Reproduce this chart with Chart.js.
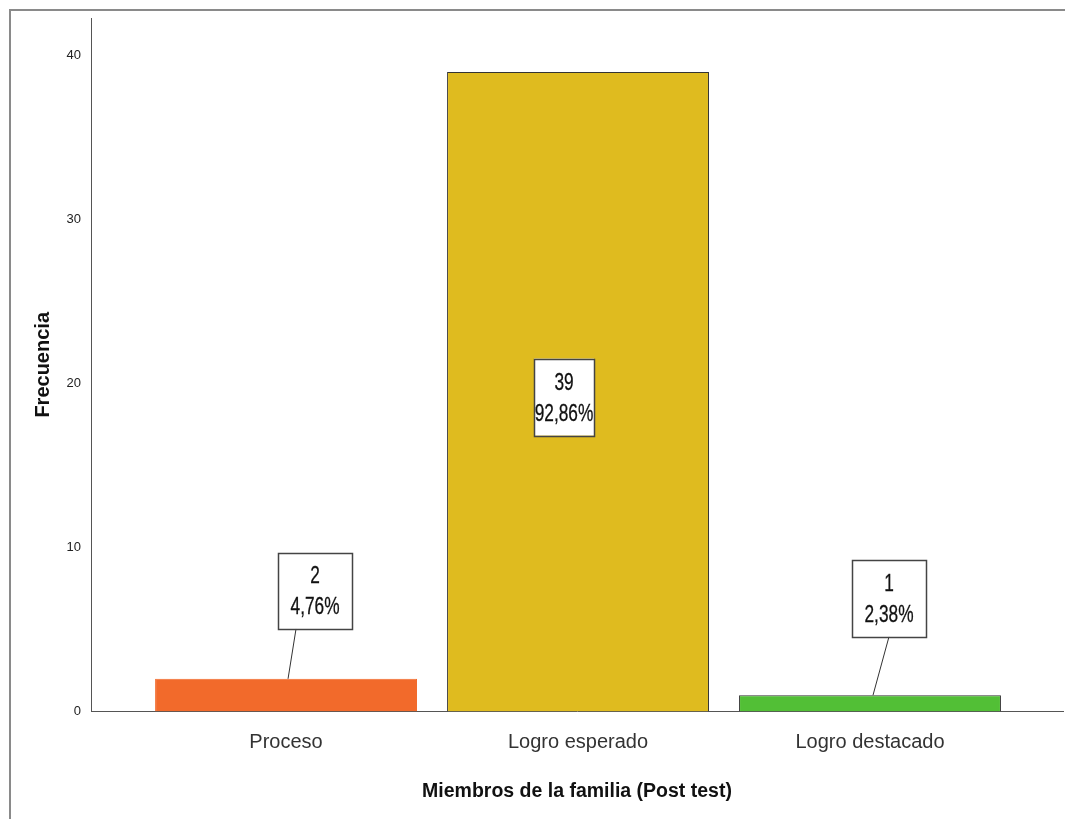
<!DOCTYPE html>
<html lang="en">
<head>
<meta charset="utf-8">
<title>Miembros de la familia</title>
<script src="https://cdn.jsdelivr.net/npm/chart.js@4.4.1/dist/chart.umd.min.js"></script>
<style>
  body { margin: 0; background: #fff; }
  #wrap { width: 1065px; height: 819px; }
</style>
</head>
<body>
<div id="wrap"><canvas id="myChart" width="1065" height="819"></canvas></div>
<script>
// data
const categorias = ['Proceso', 'Logro esperado', 'Logro destacado'];
const frecuencias = [2, 39, 1];
const porcentajes = ['4,76%', '92,86%', '2,38%'];
const yTicks = [0, 10, 20, 30, 40];
const colores = ['#f26a2b', '#dfbb1f', '#52bf36'];

const FONT = '"Liberation Sans", Arial, sans-serif';

// label box placement (pixels, relative to the bar top / bar centre)
const cajas = [
  { dx: 29, dy: -88, w: 74, h: 76, lineFrom: -19, lineTo: 2 },
  { dx: -14, dy: 325, w: 60, h: 77, lineFrom: null },
  { dx: 19, dy: -97, w: 74, h: 77, lineFrom: 0, lineTo: 3 }
];

// outer frame
const marco = {
  id: 'marco',
  beforeDraw(chart) {
    let c = chart.ctx;
    c.save();
    c.fillStyle = '#fff';
    c.fillRect(0, 0, chart.width, chart.height);
    c.strokeStyle = '#8a8a8a';
    c.lineWidth = 2;
    c.strokeRect(10, 10, chart.width + 20, chart.height + 20);
    c.restore();
  }
};

// boxed value labels (condensed text like the original)
const etiquetas = {
  id: 'etiquetas',
  afterDatasetsDraw(chart) {
    let c = chart.ctx;
    let meta = chart.getDatasetMeta(0);
    c.save();
    meta.data.forEach(function(bar, i) {
      let b = cajas[i];
      let cx = bar.x + b.dx;
      let cy = bar.y + b.dy;
      let left = cx - b.w / 2, top = cy - b.h / 2;
      if (b.lineFrom !== null) {
        c.strokeStyle = '#333';
        c.lineWidth = 1;
        c.beginPath();
        c.moveTo(cx + b.lineFrom, top + b.h);
        c.lineTo(bar.x + b.lineTo, bar.y);
        c.stroke();
      }
      c.fillStyle = '#fff';
      c.fillRect(left, top, b.w, b.h);
      c.strokeStyle = '#444';
      c.lineWidth = 1.5;
      c.strokeRect(Math.round(left) + 0.5, Math.round(top) + 0.5, b.w, b.h);
      c.fillStyle = '#111';
      c.strokeStyle = '#111';
      c.lineWidth = 0.3;
      c.font = '24px ' + FONT;
      c.textAlign = 'center';
      c.textBaseline = 'middle';
      c.save();
      c.translate(cx, cy);
      c.scale(0.72, 1);
      c.fillText(String(frecuencias[i]), 0, -14);
      c.strokeText(String(frecuencias[i]), 0, -14);
      c.fillText(porcentajes[i], 0, 17);
      c.strokeText(porcentajes[i], 0, 17);
      c.restore();
    });
    c.restore();
  }
};

var ctx = document.getElementById('myChart');
var myChart = new Chart(ctx, {
  type: 'bar',
  data: {
    datasets: [{
      data: frecuencias.map(function(v, i) { return { x: i, y: v }; }),
      backgroundColor: colores,
      borderColor: ['#f26a2b', '#333', '#333'],
      borderWidth: 1,
      borderSkipped: 'bottom',
      barPercentage: 0.897,
      categoryPercentage: 1
    }]
  },
  options: {
    responsive: false,
    animation: false,
    layout: { padding: { left: 31, top: 18, right: 2, bottom: 16 } },
    plugins: { legend: { display: false }, tooltip: { enabled: false } },
    scales: {
      x: {
        type: 'linear',
        offset: false,
        min: -0.668,
        max: 2.661,
        grid: { display: false },
        border: { display: true, color: '#555', width: 1 },
        afterBuildTicks(scale) { scale.ticks = categorias.map(function(c, i) { return { value: i }; }); },
        ticks: {
          color: '#333',
          font: { family: FONT, size: 20 },
          padding: 11,
          callback: function(v) { return categorias[v]; }
        },
        title: {
          display: true,
          text: 'Miembros de la familia (Post test)',
          color: '#111',
          font: { family: FONT, size: 19.5, weight: 'bold' },
          padding: { top: 14, bottom: 0 }
        }
      },
      y: {
        min: 0,
        max: 42.3,
        grid: { display: false },
        border: { display: true, color: '#555', width: 1 },
        afterBuildTicks(scale) { scale.ticks = yTicks.map(function(v) { return { value: v }; }); },
        afterFit(scale) { scale.width = 91 - 31; },
        ticks: { color: '#222', font: { family: FONT, size: 13 }, padding: 2 },
        title: {
          display: true,
          text: 'Frecuencia',
          color: '#111',
          font: { family: FONT, size: 20, weight: 'bold' },
          padding: { top: 0, bottom: 0 }
        }
      }
    }
  },
  plugins: [marco, etiquetas]
});
</script>
</body>
</html>
